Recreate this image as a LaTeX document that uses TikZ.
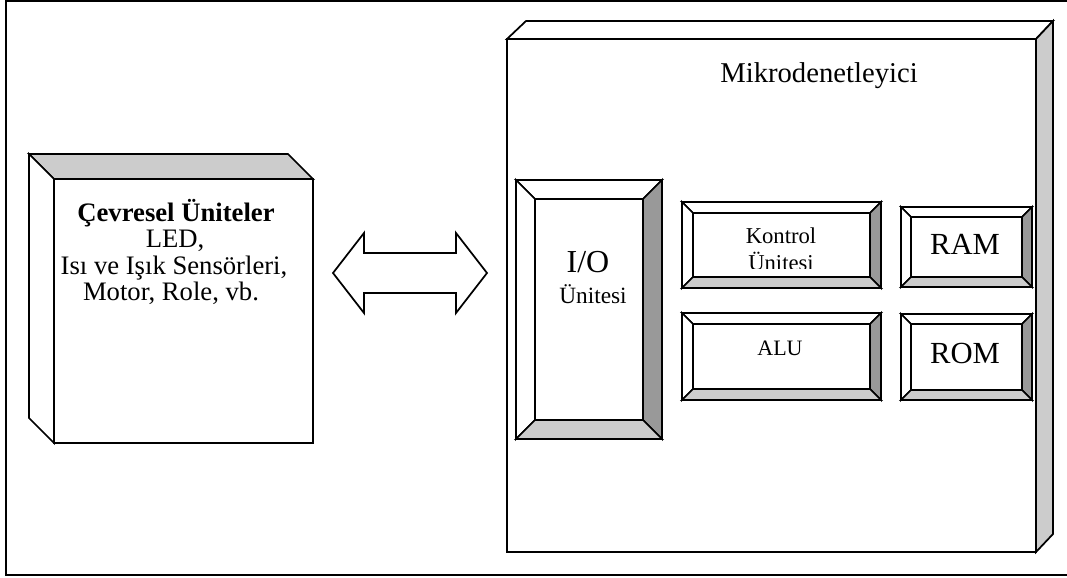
\documentclass[tikz,border=0pt]{standalone}
\usepackage{fontspec}
\setmainfont{Liberation Serif}
\definecolor{facegray}{HTML}{CCCCCC}
\definecolor{shadegray}{HTML}{999999}
% bevelled button: x1, y1, x2, y2, bevel width
\newcommand\bevelrect[5]{%
  \filldraw[boxline, fill=white] (#1,#2) -- (#3,#2) -- (#3-#5,#2+#5) -- (#1+#5,#2+#5) -- cycle;
  \filldraw[boxline, fill=white] (#1,#2) -- (#1+#5,#2+#5) -- (#1+#5,#4-#5) -- (#1,#4) -- cycle;
  \filldraw[boxline, fill=shadegray] (#3,#2) -- (#3,#4) -- (#3-#5,#4-#5) -- (#3-#5,#2+#5) -- cycle;
  \filldraw[boxline, fill=facegray] (#1,#4) -- (#3,#4) -- (#3-#5,#4-#5) -- (#1+#5,#4-#5) -- cycle;
  \filldraw[boxline, fill=white] (#1+#5,#2+#5) rectangle (#3-#5,#4-#5);
}
\begin{document}
\begin{tikzpicture}[x=0.75pt, y=-0.75pt, line join=miter,
  boxline/.style={draw=black, line width=1.3pt},
  lbl/.style={anchor=base, inner sep=0pt, outer sep=0pt}]
\useasboundingbox (0,0) rectangle (1067,578);

% page frame
\draw[line width=1.6pt] (1067,1) -- (6,1) -- (6,575) -- (1067,575);

% peripheral units block
\filldraw[boxline, fill=white] (54,179) rectangle (313,443);
\filldraw[boxline, fill=facegray] (29,154) -- (288,154) -- (313,179) -- (54,179) -- cycle;
\filldraw[boxline, fill=white] (29,154) -- (54,179) -- (54,443) -- (29,418) -- cycle;
\node[lbl, font=\fontsize{20}{21}\selectfont\bfseries] (peri-title) at (176,221) {Çevresel Üniteler};
\node[lbl, font=\fontsize{20}{21}\selectfont] (peri-l1) at (175,247) {LED,};
\node[lbl, font=\fontsize{20}{21}\selectfont] (peri-l2) at (174,274) {Isı ve Işık Sensörleri,};
\node[lbl, font=\fontsize{20}{21}\selectfont] (peri-l3) at (171,300) {Motor, Role, vb.};

% two-way data arrow
\filldraw[boxline, fill=white] (333,273) -- (364,233) -- (364,253) -- (456,253) -- (456,233)
  -- (487,273) -- (456,313) -- (456,293) -- (364,293) -- (364,313) -- cycle;

% microcontroller block
\filldraw[boxline, fill=white] (507,39) rectangle (1036,552);
\filldraw[boxline, fill=white] (507,39) -- (526,21) -- (1053,21) -- (1036,39) -- cycle;
\filldraw[boxline, fill=facegray] (1036,39) -- (1053,21) -- (1053,534) -- (1036,552) -- cycle;
\node[lbl, font=\fontsize{21.5}{23}\selectfont] (mcu-title) at (819,82) {Mikrodenetleyici};

% I/O unit
\bevelrect{516}{180}{662}{439}{19}
\node[lbl, font=\fontsize{24}{26}\selectfont] (io-l1) at (588,272) {I/O};
\node[lbl, font=\fontsize{17.5}{19}\selectfont] (io-l2) at (593,303) {Ünitesi};

% control unit
\bevelrect{682}{202}{881}{288}{11}
\begin{scope}
  \clip (694,213) rectangle (869,268);
  \node[lbl, font=\fontsize{17}{19}\selectfont] (ctl-l1) at (781,243) {Kontrol};
  \node[lbl, font=\fontsize{17}{19}\selectfont] (ctl-l2) at (781,270) {Ünitesi};
\end{scope}

% ALU
\bevelrect{682}{313}{881}{400}{11}
\node[lbl, font=\fontsize{16.5}{18}\selectfont] (alu) at (780,355) {ALU};

% memories
\bevelrect{901}{207}{1032}{287}{10}
\node[lbl, font=\fontsize{23}{25}\selectfont] (ram) at (965,254) {RAM};
\bevelrect{901}{314}{1032}{400}{10}
\node[lbl, font=\fontsize{23}{25}\selectfont] (rom) at (965,363) {ROM};
\end{tikzpicture}
\end{document}
